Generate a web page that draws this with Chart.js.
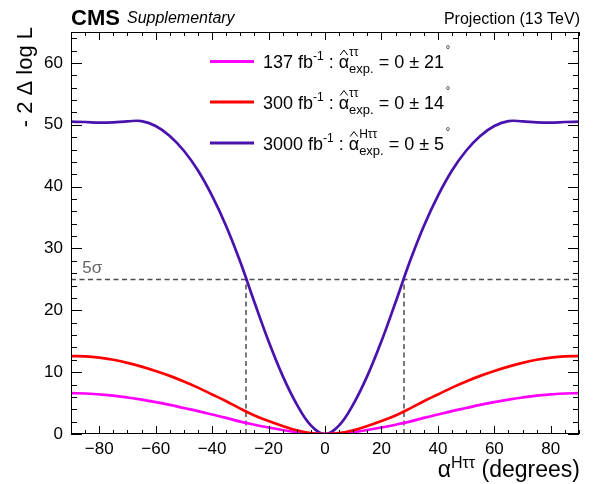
<!DOCTYPE html>
<html>
<head>
<meta charset="utf-8">
<script src="https://cdn.jsdelivr.net/npm/chart.js@4.4.1/dist/chart.umd.min.js"></script>
<style>
  html, body { margin: 0; padding: 0; background: #fff; }
  canvas { display: block; }
</style>
</head>
<body>
<canvas id="nllChart" width="596" height="484"></canvas>
<script>
// scan points (degrees)
const angles = [-90, -85, -80, -75, -70, -65, -60, -55, -50, -45, -40, -35, -30, -25, -20, -15, -10, -5,
                0, 5, 10, 15, 20, 25, 30, 35, 40, 45, 50, 55, 60, 65, 70, 75, 80, 85, 90];

// -2 Delta log L for each projection
const nll137 = [6.6, 6.55, 6.4, 6.2, 5.9, 5.55, 5.15, 4.7, 4.2, 3.7, 3.15, 2.6, 2.0, 1.5, 1.05, 0.65, 0.3, 0.07,
                0, 0.07, 0.3, 0.65, 1.05, 1.5, 2.0, 2.6, 3.15, 3.7, 4.2, 4.7, 5.15, 5.55, 5.9, 6.2, 6.4, 6.55, 6.6];
const nll300 = [12.6, 12.55, 12.35, 12.0, 11.5, 10.9, 10.2, 9.4, 8.5, 7.5, 6.4, 5.3, 4.1, 3.0, 2.1, 1.3, 0.6, 0.15,
                0, 0.15, 0.6, 1.3, 2.1, 3.0, 4.1, 5.3, 6.4, 7.5, 8.5, 9.4, 10.2, 10.9, 11.5, 12.0, 12.35, 12.55, 12.6];
const nll3000 = [50.5, 50.45, 50.35, 50.4, 50.55, 50.6, 49.8, 48.2, 45.8, 42.6, 38.5, 33.6, 27.8, 21.3, 15.0, 9.4, 4.8, 1.4,
                 0, 1.4, 4.8, 9.4, 15.0, 21.3, 27.8, 33.6, 38.5, 42.6, 45.8, 48.2, 49.8, 50.6, 50.55, 50.4, 50.35, 50.45, 50.5];

const lumis = ['137', '300', '3000'];
const alphaSup = ['ττ', 'ττ', 'Hττ'];
const errors = ['21', '14', '5'];

const fiveSigma = 25;
const crossing = 28;

const xTicks = [-80, -60, -40, -20, 0, 20, 40, 60, 80];
const yTicks = [0, 10, 20, 30, 40, 50, 60];

const colors = ['#ff00ff', '#ff0000', '#4a12ad'];
const FONT = '"Liberation Sans", Arial, Helvetica, sans-serif';

function toPoints(ys) {
    return angles.map((a, i) => ({ x: a, y: ys[i] }));
}

// draw a line of text made of pieces with their own size / offset
function drawRich(ctx, x, y, parts) {
    let cx = x;
    parts.forEach(p => {
        if (p.stack) {
            let w = 0;
            p.stack.forEach(s => {
                ctx.font = `${s.size}px ${FONT}`;
                ctx.fillText(s.t, cx, y + s.dy);
                w = Math.max(w, ctx.measureText(s.t).width);
            });
            cx += w;
            return;
        }
        ctx.font = `${p.italic ? 'italic ' : ''}${p.bold ? 'bold ' : ''}${p.size}px ${FONT}`;
        ctx.fillText(p.t, cx, y + (p.dy || 0));
        const w = ctx.measureText(p.t).width;
        if (p.hat) {
            ctx.save();
            ctx.lineWidth = 1;
            ctx.strokeStyle = '#000';
            ctx.beginPath();
            ctx.moveTo(cx + 1.5, y - 13);
            ctx.lineTo(cx + w / 2, y - 18);
            ctx.lineTo(cx + w - 1.5, y - 13);
            ctx.stroke();
            ctx.restore();
        }
        cx += w;
    });
    return cx;
}

const framePlugin = {
    id: 'frame',
    afterDatasetsDraw(chart) {
        const { ctx, chartArea: a, scales: { x, y } } = chart;
        ctx.save();
        ctx.strokeStyle = '#000';
        ctx.lineWidth = 1;
        ctx.strokeRect(a.left + 0.5, a.top + 0.5, a.right - a.left - 1, a.bottom - a.top - 1);
        ctx.beginPath();
        // x ticks, every 5 degrees, bottom and top
        for (let v = -90; v <= 90; v += 5) {
            const px = Math.round(x.getPixelForValue(v)) + 0.5;
            const len = v % 20 === 0 ? 8 : 4;
            ctx.moveTo(px, a.bottom); ctx.lineTo(px, a.bottom - len);
            ctx.moveTo(px, a.top); ctx.lineTo(px, a.top + len);
        }
        // y ticks, every 2 units, left and right
        for (let v = 0; v <= 64; v += 2) {
            const py = Math.round(y.getPixelForValue(v)) + 0.5;
            const len = v % 10 === 0 ? 11 : 6;
            ctx.moveTo(a.left, py); ctx.lineTo(a.left + len, py);
            ctx.moveTo(a.right, py); ctx.lineTo(a.right - len, py);
        }
        ctx.stroke();
        ctx.restore();
    },
    afterDraw(chart) {
        const { ctx, chartArea: a, scales: { x, y } } = chart;
        ctx.save();
        ctx.fillStyle = '#000';
        ctx.textBaseline = 'alphabetic';
        ctx.textAlign = 'left';

        // header
        ctx.font = `bold 22px ${FONT}`;
        ctx.fillText('CMS', 71, 25);
        ctx.font = `italic 16px ${FONT}`;
        ctx.fillText('Supplementary', 127, 23);
        ctx.textAlign = 'right';
        ctx.font = `16px ${FONT}`;
        ctx.fillText('Projection (13 TeV)', a.right + 1, 24);

        // y title
        ctx.save();
        ctx.translate(32, 27);
        ctx.rotate(-Math.PI / 2);
        ctx.textAlign = 'right';
        ctx.font = `22px ${FONT}`;
        ctx.fillText('- 2 Δ log L', 0, 0);
        ctx.restore();

        // x title
        ctx.textAlign = 'left';
        ctx.font = `23px ${FONT}`;
        const tailW = ctx.measureText(' (degrees)').width;
        const alphaW = ctx.measureText('α').width;
        ctx.font = `16px ${FONT}`;
        const supW = ctx.measureText('Hττ').width;
        const x0 = a.right + 1 - tailW - supW - alphaW;
        drawRich(ctx, x0, 477, [
            { t: 'α', size: 23 },
            { t: 'Hττ', size: 16, dy: -9 },
            { t: ' (degrees)', size: 23 }
        ]);

        // 5 sigma label
        ctx.fillStyle = '#666';
        ctx.font = `17px ${FONT}`;
        ctx.fillText('5σ', x.getPixelForValue(-86), y.getPixelForValue(fiveSigma) - 6);

        // legend
        const rowY = [61.5, 102, 143];
        lumis.forEach((l, i) => {
            ctx.strokeStyle = colors[i];
            ctx.lineWidth = 3;
            ctx.beginPath();
            ctx.moveTo(210, rowY[i]);
            ctx.lineTo(254, rowY[i]);
            ctx.stroke();
            ctx.fillStyle = '#000';
            const by = rowY[i] + 6.5;
            drawRich(ctx, 263, by, [
                { t: `${l} fb`, size: 18 },
                { t: '-1', size: 12, dy: -8 },
                { t: ' : ', size: 18 },
                { t: 'α', size: 18, hat: true },
                { stack: [{ t: alphaSup[i], size: 12, dy: -12 }, { t: 'exp.', size: 13, dy: 5 }] },
                { t: ` = 0 ± ${errors[i]}`, size: 18 },
                { t: ' ', size: 6 },
                { t: '°', size: 11, dy: -15 }
            ]);
        });
        ctx.restore();
    }
};

const lineStyle = {
    fill: false,
    pointRadius: 0,
    borderWidth: 2.7,
    tension: 0.4
};
const dashStyle = {
    fill: false,
    pointRadius: 0,
    borderWidth: 1.5,
    borderColor: '#4d4d4d',
    borderDash: [5, 3.5],
    tension: 0,
    order: 4
};

new Chart(document.getElementById('nllChart'), {
    type: 'line',
    data: {
        datasets: [
            { ...lineStyle, label: '137', data: toPoints(nll137), borderColor: colors[0], order: 2 },
            { ...lineStyle, label: '300', data: toPoints(nll300), borderColor: colors[1], order: 1 },
            { ...lineStyle, label: '3000', data: toPoints(nll3000), borderColor: colors[2], order: 3 },
            { ...dashStyle, label: '5sigma', data: [{ x: -90, y: fiveSigma }, { x: 90, y: fiveSigma }] },
            { ...dashStyle, label: 'left', data: [{ x: -crossing, y: 0 }, { x: -crossing, y: fiveSigma }] },
            { ...dashStyle, label: 'right', data: [{ x: crossing, y: 0 }, { x: crossing, y: fiveSigma }] }
        ]
    },
    options: {
        responsive: false,
        animation: false,
        layout: { padding: { top: 32, right: 17, left: 0, bottom: 0 } },
        plugins: { legend: { display: false }, tooltip: { enabled: false } },
        scales: {
            x: {
                type: 'linear',
                min: -90,
                max: 90,
                afterBuildTicks: s => { s.ticks = xTicks.map(v => ({ value: v })); },
                afterFit: s => { s.height = 50; },
                grid: { display: false, drawTicks: false },
                border: { display: false },
                ticks: {
                    padding: 5,
                    color: '#000',
                    font: { family: FONT, size: 17 },
                    maxRotation: 0,
                    autoSkip: false,
                    callback: v => String(v).replace('-', '−')
                }
            },
            y: {
                type: 'linear',
                min: 0,
                max: 65,
                afterBuildTicks: s => { s.ticks = yTicks.map(v => ({ value: v })); },
                afterFit: s => { s.width = 71; },
                grid: { display: false, drawTicks: false },
                border: { display: false },
                ticks: {
                    padding: 8,
                    color: '#000',
                    font: { family: FONT, size: 17 },
                    autoSkip: false
                }
            }
        }
    },
    plugins: [framePlugin]
});
</script>
</body>
</html>
